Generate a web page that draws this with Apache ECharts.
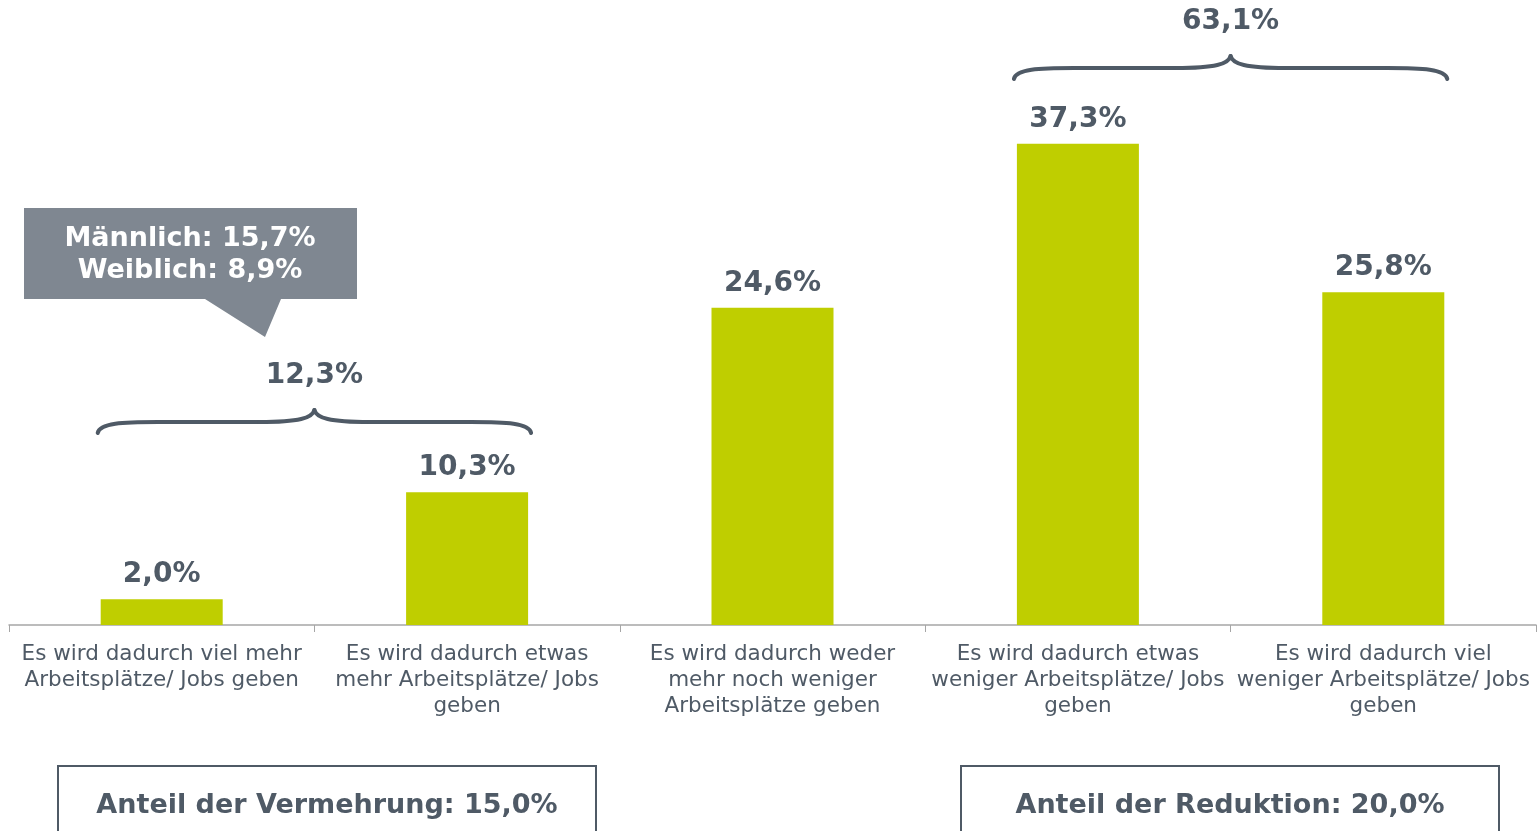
<!DOCTYPE html>
<html>
<head>
<meta charset="utf-8">
<script src="https://cdn.jsdelivr.net/npm/echarts@6/dist/echarts.min.js"></script>
<style>
  html, body { margin: 0; padding: 0; background: #fff; }
  #chart { width: 1539px; height: 831px; }
</style>
</head>
<body>
<div id="chart"></div>
<script>
// Daten
var categories = [
    'Es wird dadurch viel mehr\nArbeitsplätze/ Jobs geben',
    'Es wird dadurch etwas\nmehr Arbeitsplätze/ Jobs\ngeben',
    'Es wird dadurch weder\nmehr noch weniger\nArbeitsplätze geben',
    'Es wird dadurch etwas\nweniger Arbeitsplätze/ Jobs\ngeben',
    'Es wird dadurch viel\nweniger Arbeitsplätze/ Jobs\ngeben'
];
var values = [2.0, 10.3, 24.6, 37.3, 25.8];
var braceLabels = ['12,3%', '63,1%'];
var calloutLines = ['Männlich: 15,7%', 'Weiblich: 8,9%'];
var boxLabels = ['Anteil der Vermehrung: 15,0%', 'Anteil der Reduktion: 20,0%'];

var textColor = '#4f5a66';
var barColor = '#bfce00';
var font = '"DejaVu Sans", Verdana, sans-serif';

function pct(v) { return v.toFixed(1).replace('.', ',') + '%'; }

var chart = echarts.init(document.getElementById('chart'));
var barWidth = 122;

chart.setOption({
    animation: false,
    grid: { left: 9, right: 3, top: 109, bottom: 206 },
    xAxis: {
        type: 'category',
        data: categories,
        axisLine: { lineStyle: { color: '#a6a6a6', width: 1.5 } },
        axisTick: { show: true, length: 7, lineStyle: { color: '#a6a6a6' } },
        axisLabel: {
            interval: 0,
            margin: 16,
            color: textColor,
            fontFamily: font,
            fontSize: 21.5,
            lineHeight: 26
        }
    },
    yAxis: { type: 'value', min: 0, max: 40, show: false, splitLine: { show: false } },
    series: [{
        type: 'bar',
        data: values,
        barWidth: barWidth,
        itemStyle: { color: barColor },
        label: {
            show: true,
            position: 'top',
            distance: 10,
            color: textColor,
            fontFamily: font,
            fontWeight: 'bold',
            fontSize: 28,
            formatter: function (p) { return pct(p.value); }
        }
    }]
});

// Klammern aus Kurven und Linien
function brace(x1, x2, yE, yF, yP) {
    var xm = (x1 + x2) / 2;
    var st = { stroke: textColor, lineWidth: 4, fill: null, lineCap: 'round' };
    var parts = [
        { type: 'bezierCurve', shape: { x1: x1, y1: yE, cpx1: x1 + 2, cpy1: yF + 1, cpx2: x1 + 25, cpy2: yF, x2: x1 + 60, y2: yF } },
        { type: 'line', shape: { x1: x1 + 60, y1: yF, x2: xm - 55, y2: yF } },
        { type: 'bezierCurve', shape: { x1: xm - 55, y1: yF, cpx1: xm - 15, cpy1: yF, cpx2: xm - 2, cpy2: yF - 4, x2: xm, y2: yP } },
        { type: 'bezierCurve', shape: { x1: xm, y1: yP, cpx1: xm + 2, cpy1: yF - 4, cpx2: xm + 15, cpy2: yF, x2: xm + 55, y2: yF } },
        { type: 'line', shape: { x1: xm + 55, y1: yF, x2: x2 - 60, y2: yF } },
        { type: 'bezierCurve', shape: { x1: x2 - 60, y1: yF, cpx1: x2 - 25, cpy1: yF, cpx2: x2 - 2, cpy2: yF + 1, x2: x2, y2: yE } }
    ];
    parts.forEach(function (p) { p.style = st; });
    return parts;
}

var cx = values.map(function (v, i) { return chart.convertToPixel({ xAxisIndex: 0 }, i); });
var braces = [
    { from: 0, to: 1, yE: 433, label: braceLabels[0] },
    { from: 3, to: 4, yE: 79, label: braceLabels[1] }
];
var graphics = [];
braces.forEach(function (b) {
    var x1 = cx[b.from] - barWidth / 2 - 3;
    var x2 = cx[b.to] + barWidth / 2 + 3;
    graphics = graphics.concat(brace(x1, x2, b.yE, b.yE - 11, b.yE - 23));
    graphics.push({
        type: 'text',
        x: (x1 + x2) / 2, y: b.yE - 57,
        style: { text: b.label, fill: textColor, font: 'bold 28px ' + font, align: 'center', verticalAlign: 'middle' }
    });
});

// Sprechblase
graphics.push({
    type: 'polygon',
    shape: { points: [[24, 208], [357, 208], [357, 299], [281, 299], [265, 337], [205, 299], [24, 299]] },
    style: { fill: '#7f8791' }
});
graphics.push({
    type: 'text',
    x: 190, y: 255,
    style: {
        text: calloutLines.join('\n'), fill: '#fff', font: 'bold 27px ' + font,
        align: 'center', verticalAlign: 'middle', lineHeight: 32
    }
});

// Kästen unten
[[58, boxLabels[0]], [961, boxLabels[1]]].forEach(function (b) {
    graphics.push({
        type: 'rect',
        shape: { x: b[0], y: 766, width: 538, height: 80 },
        style: { fill: null, stroke: textColor, lineWidth: 2 }
    });
    graphics.push({
        type: 'text',
        x: b[0] + 269, y: 806,
        style: { text: b[1], fill: textColor, font: 'bold 27px ' + font, align: 'center', verticalAlign: 'middle' }
    });
});

chart.setOption({ graphic: graphics });
</script>
</body>
</html>
